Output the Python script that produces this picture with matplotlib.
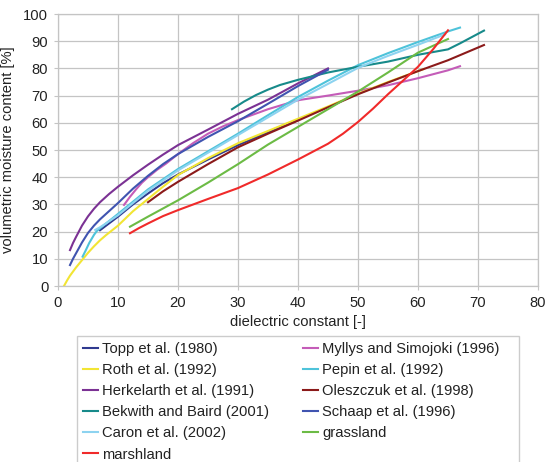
import matplotlib
matplotlib.use("Agg")
import matplotlib.pyplot as plt
from matplotlib.patches import Rectangle

plt.rcParams["font.family"] = ["Liberation Sans", "DejaVu Sans"]
plt.rcParams["font.size"] = 10.6

# dielectric constant (x) and volumetric moisture content in % (y)
topp_x = [7, 8.5, 10, 12.5, 15, 17.5, 20, 25, 30, 35, 40]
topp_y = [20.5, 23, 25.5, 30, 34, 37.8, 41, 46.5, 51.8, 56.5, 61]

myllys_x = [11, 12, 13, 14, 15, 16.5, 18, 20, 22.5, 25, 27.5, 30, 35, 40, 45, 50, 55, 60, 65, 67]
myllys_y = [29.8, 32.8, 35.5, 38, 40, 42.7, 45, 48.5, 52.5, 56, 58.7, 61, 65, 68.3, 70,
            71.8, 73.8, 76.4, 79.3, 80.8]

roth_x = [1, 1.5, 2, 3, 4, 5, 6, 7, 8, 10, 12.5, 15, 17.5, 20, 25, 30, 35, 40, 45, 50, 55, 61]
roth_y = [0, 2, 3.8, 6.8, 9.5, 12.2, 14.6, 16.8, 18.7, 22.2, 27.5, 32, 36.5, 40.8, 47, 52.5,
          57, 61.5, 66, 70.7, 75, 79.8]

pepin_x = [4.1, 4.6, 5.2, 6, 6.5, 7, 8, 10, 12.5, 15, 20, 25, 30, 35, 40, 45, 50, 55, 60, 65, 67]
pepin_y = [10.8, 13, 15.8, 18.8, 20.3, 21.2, 23, 26.5, 31, 35.5, 43, 49.5, 56, 62.8, 69.5,
           75.5, 81.2, 85.6, 89.7, 93.6, 95]

herk_x = [2, 2.5, 3, 4, 5, 6, 7, 8.5, 10, 12.5, 15, 17.5, 20, 25, 30, 35, 40, 45]
herk_y = [13.2, 15.8, 18, 22.2, 25.6, 28.4, 30.8, 33.8, 36.5, 40.7, 44.6, 48.3, 51.8, 57.5,
          63.3, 68.5, 74.5, 80]

olesz_x = [15, 17.5, 20, 25, 30, 35, 40, 45, 50, 55, 60, 65, 71]
olesz_y = [30.8, 34.8, 38.3, 44.8, 51, 56, 60.8, 65.7, 70.5, 74.8, 79, 83, 88.6]

bekwith_x = [29, 31, 33, 35, 37, 40, 45, 50, 55, 60, 65, 67, 71]
bekwith_y = [65, 67.8, 70.2, 72.2, 73.9, 75.8, 78.5, 80.6, 82.5, 85, 87, 89.2, 93.9]

schaap_x = [2, 2.5, 3, 4, 5, 6, 7, 8.5, 10, 12.5, 15, 17.5, 20, 25, 30, 35, 40, 45]
schaap_y = [7.7, 10, 12, 16, 19.5, 22.2, 24.5, 27.5, 30.5, 35.8, 40.5, 44.8, 48.5, 54.8, 60.6,
            67, 73.5, 79.5]

caron_x = [6.2, 7, 8, 10, 12.5, 15, 20, 25, 30, 35, 40, 45, 50, 55, 60, 64.5]
caron_y = [20.6, 21.6, 23, 26, 30.5, 35, 42.5, 49, 55.5, 62, 68.5, 74.3, 80.2, 84.6, 88.7, 92.5]

grass_x = [12, 15, 20, 25, 30, 35, 40, 45, 50, 55, 60, 65]
grass_y = [21.8, 25.5, 31.5, 38, 44.8, 52, 58.5, 65, 71.5, 78.5, 85.8, 90.8]

marsh_x = [12, 13.5, 15, 17.5, 20, 25, 30, 35, 40, 45, 47.5, 50, 52.5, 55, 57.5, 60, 62.5, 65]
marsh_y = [19.4, 21.3, 23, 25.7, 27.9, 32, 36, 41, 46.5, 52.3, 56, 60.3, 65.2, 70.5, 75.5,
           80.6, 87, 94]

# drawing order (row by row as in the legend)
series = [
    ("Topp et al. (1980)", topp_x, topp_y, "#2f3a8f"),
    ("Myllys and Simojoki (1996)", myllys_x, myllys_y, "#c45cb8"),
    ("Roth et al. (1992)", roth_x, roth_y, "#f2e534"),
    ("Pepin et al. (1992)", pepin_x, pepin_y, "#4ec3da"),
    ("Herkelarth et al. (1991)", herk_x, herk_y, "#7b3294"),
    ("Oleszczuk et al. (1998)", olesz_x, olesz_y, "#8b1a1a"),
    ("Bekwith and Baird (2001)", bekwith_x, bekwith_y, "#178a8a"),
    ("Schaap et al. (1996)", schaap_x, schaap_y, "#4054b0"),
    ("Caron et al. (2002)", caron_x, caron_y, "#8dd3f0"),
    ("grassland", grass_x, grass_y, "#6cbb45"),
    ("marshland", marsh_x, marsh_y, "#f02a2a"),
]
legend_order = [
    "Topp et al. (1980)", "Roth et al. (1992)", "Herkelarth et al. (1991)",
    "Bekwith and Baird (2001)", "Caron et al. (2002)", "marshland",
    "Myllys and Simojoki (1996)", "Pepin et al. (1992)", "Oleszczuk et al. (1998)",
    "Schaap et al. (1996)", "grassland",
]

W, H = 548, 462
fig = plt.figure(figsize=(W / 100, H / 100), dpi=100)
ax = fig.add_axes([58 / W, 1 - 286 / H, 480 / W, 272 / H])

handles = {}
for name, xs, ys, col in series:
    (ln,) = ax.plot(xs, ys, color=col, lw=1.5, label=name)
    handles[name] = ln

ax.set_xlim(0, 80)
ax.set_ylim(0, 100)
ax.set_xticks(range(0, 81, 10))
ax.set_yticks(range(0, 101, 10))
ax.grid(True, color="#c4c4c4", lw=0.9)
ax.set_axisbelow(True)
for s in ax.spines.values():
    s.set_color("#c4c4c4")
    s.set_linewidth(0.9)
ax.tick_params(length=3, color="#c4c4c4", labelcolor="#222222", pad=4)
ax.set_xlabel("dielectric constant [-]", color="#222222", labelpad=4)
ax.set_ylabel("volumetric moisture content [%]", color="#222222", labelpad=6)

# legend frame runs off the bottom edge like in the original
fig.patches.append(Rectangle((77 / W, -0.05), (519 - 77) / W, 1 - 336 / H + 0.05,
                             transform=fig.transFigure, fill=False,
                             edgecolor="#cccccc", lw=1))
fig.legend([handles[n] for n in legend_order], legend_order, ncol=2,
           loc="upper left", bbox_to_anchor=(77 / W, 1 - 336 / H),
           frameon=False, borderaxespad=0, borderpad=0.42,
           handlelength=1.0, handletextpad=0.3, columnspacing=2.3,
           labelspacing=0.48, labelcolor="#222222")

fig.savefig("out.png", dpi=100)
